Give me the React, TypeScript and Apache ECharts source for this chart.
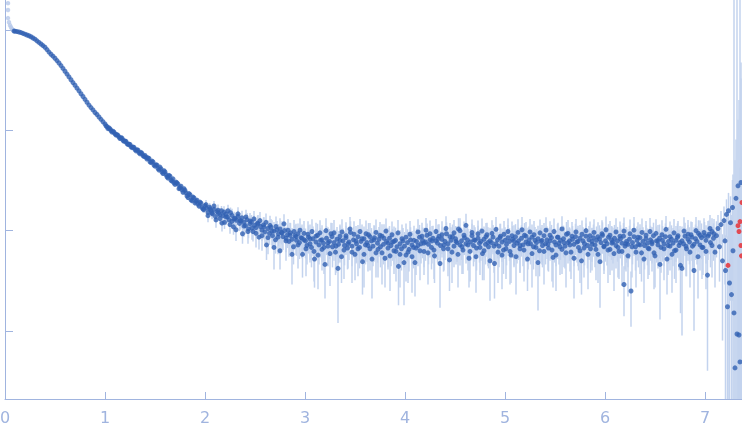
import React, { useEffect, useRef } from "react";
import * as echarts from "echarts";

// Scattering curve, q (x) vs intensity I (log y). Rows are [q, I] or [q, I, error].
const excludedPoints: number[][] = [
  [0.03, 1.86], [0.03, 1.59], [0.03, 1.32], [0.04, 1.2], [0.05, 1.12], [0.06, 1.07], [0.07, 1.03], [0.08, 1.0],
];

const guinierPoints: number[][] = [
  [0.09, 0.98], [0.10, 0.977], [0.12, 0.968], [0.14, 0.959], [0.16, 0.946], [0.18, 0.929], [0.20, 0.912],
  [0.22, 0.895], [0.24, 0.879], [0.26, 0.859], [0.28, 0.836], [0.30, 0.813], [0.32, 0.783], [0.34, 0.755],
  [0.36, 0.728], [0.38, 0.702], [0.40, 0.676], [0.42, 0.640], [0.44, 0.605], [0.46, 0.575], [0.48, 0.550],
  [0.50, 0.525], [0.52, 0.497], [0.54, 0.470], [0.56, 0.443], [0.58, 0.415], [0.60, 0.389], [0.62, 0.365],
  [0.64, 0.342], [0.66, 0.320], [0.68, 0.300], [0.70, 0.282], [0.72, 0.264], [0.74, 0.248], [0.76, 0.232],
  [0.78, 0.218], [0.80, 0.204], [0.82, 0.191], [0.84, 0.179], [0.86, 0.169], [0.88, 0.160], [0.90, 0.151],
  [0.92, 0.144], [0.94, 0.136], [0.96, 0.129], [0.98, 0.122],
];

const shoulderPoints: number[][] = [
  [1.00, 0.116, 0.0015], [1.02, 0.109, 0.0015], [1.04, 0.106, 0.0015], [1.06, 0.0998, 0.0015],
  [1.08, 0.0981, 0.0015], [1.10, 0.0925, 0.0015], [1.12, 0.0907, 0.0015], [1.14, 0.0858, 0.0015],
  [1.16, 0.0846, 0.0015], [1.18, 0.0797, 0.0015], [1.20, 0.0785, 0.0015], [1.22, 0.0739, 0.0015],
  [1.24, 0.0730, 0.0015], [1.26, 0.0688, 0.0015], [1.28, 0.0683, 0.0015], [1.30, 0.0644, 0.0013],
  [1.32, 0.0641, 0.0013], [1.34, 0.0600, 0.0013], [1.36, 0.0604, 0.0013], [1.38, 0.0561, 0.0013],
  [1.40, 0.0563, 0.0013], [1.41, 0.0540, 0.0013], [1.42, 0.0518, 0.0013], [1.44, 0.0524, 0.0013],
  [1.46, 0.0478, 0.0013], [1.48, 0.0486, 0.0013], [1.50, 0.0440, 0.0013], [1.51, 0.0455, 0.0013],
  [1.52, 0.0449, 0.0013], [1.54, 0.0402, 0.0013], [1.56, 0.0412, 0.0013], [1.58, 0.0371, 0.0013],
  [1.60, 0.0385, 0.0012], [1.61, 0.0362, 0.0012], [1.62, 0.0344, 0.0012], [1.64, 0.0356, 0.0012],
  [1.66, 0.0318, 0.0012], [1.68, 0.0329, 0.0012], [1.70, 0.0289, 0.0012], [1.71, 0.0305, 0.0012],
  [1.72, 0.0300, 0.0012], [1.74, 0.0262, 0.0012], [1.76, 0.0277, 0.0012], [1.78, 0.0241, 0.0012],
  [1.80, 0.0252, 0.0012], [1.81, 0.0238, 0.0012], [1.82, 0.0222, 0.0012], [1.84, 0.0234, 0.0012],
  [1.86, 0.0203, 0.0012], [1.88, 0.0216, 0.0012], [1.90, 0.0189, 0.0012], [1.91, 0.0196, 0.0012],
  [1.92, 0.0201, 0.0012], [1.94, 0.0176, 0.0012], [1.96, 0.0188, 0.0012], [1.98, 0.0164, 0.0012],
  [2.00, 0.0177, 0.0012],
];

const shoulderPointsOdd: number[][] = [
  [1.01, 0.111, 0.0015], [1.03, 0.104, 0.0015], [1.05, 0.1035, 0.0015], [1.07, 0.0962, 0.0015],
  [1.09, 0.0958, 0.0015], [1.11, 0.0900, 0.0015], [1.13, 0.0892, 0.0015], [1.15, 0.0830, 0.0015],
  [1.17, 0.0838, 0.0015], [1.19, 0.0779, 0.0015], [1.21, 0.0775, 0.0015], [1.23, 0.0722, 0.0015],
  [1.25, 0.0724, 0.0015], [1.27, 0.0672, 0.0015], [1.29, 0.0676, 0.0015], [1.31, 0.0625, 0.0013],
  [1.33, 0.0634, 0.0013], [1.35, 0.0585, 0.0013], [1.37, 0.0590, 0.0013], [1.39, 0.0548, 0.0013],
  [1.43, 0.0532, 0.0013], [1.45, 0.0486, 0.0013], [1.47, 0.0494, 0.0013], [1.49, 0.0452, 0.0013],
  [1.53, 0.0417, 0.0013], [1.55, 0.0430, 0.0013], [1.57, 0.0384, 0.0013], [1.59, 0.0396, 0.0013],
  [1.63, 0.0335, 0.0012], [1.65, 0.0349, 0.0012], [1.67, 0.0312, 0.0012], [1.69, 0.0300, 0.0012],
  [1.73, 0.0290, 0.0012], [1.75, 0.0268, 0.0012], [1.77, 0.0255, 0.0012], [1.79, 0.0262, 0.0012],
  [1.83, 0.0214, 0.0012], [1.85, 0.0228, 0.0012], [1.87, 0.0199, 0.0012], [1.89, 0.0212, 0.0012],
  [1.93, 0.0184, 0.0012], [1.95, 0.0192, 0.0012], [1.97, 0.0170, 0.0012], [1.99, 0.0162, 0.0012],
];

const kneePoints: number[][] = [
  [2.015, 0.0168, 0.0016], [2.030, 0.0152, 0.0016], [2.045, 0.0171, 0.0017], [2.060, 0.0159, 0.0016],
  [2.075, 0.0147, 0.0016], [2.090, 0.0163, 0.0017], [2.105, 0.0138, 0.0016], [2.120, 0.0155, 0.0017],
  [2.135, 0.0149, 0.0017], [2.150, 0.0132, 0.0016], [2.165, 0.0158, 0.0018], [2.180, 0.0141, 0.0017],
  [2.195, 0.0121, 0.0017], [2.210, 0.0146, 0.0018], [2.225, 0.0137, 0.0018], [2.240, 0.0128, 0.0018],
  [2.255, 0.0151, 0.0019], [2.270, 0.0124, 0.0018], [2.285, 0.0109, 0.0018], [2.300, 0.0133, 0.0019],
  [2.315, 0.0127, 0.0019], [2.330, 0.0139, 0.0020], [2.345, 0.0118, 0.0019], [2.360, 0.0125, 0.0020],
  [2.375, 0.0093, 0.0019], [2.390, 0.0121, 0.0020], [2.405, 0.0112, 0.0020], [2.420, 0.0129, 0.0021],
  [2.435, 0.0104, 0.0020], [2.450, 0.0117, 0.0021], [2.465, 0.0122, 0.0021], [2.480, 0.0098, 0.0020],
  [2.495, 0.0113, 0.0021], [2.510, 0.0107, 0.0021], [2.525, 0.0119, 0.0022], [2.540, 0.0086, 0.0021],
  [2.555, 0.0110, 0.0022], [2.570, 0.0101, 0.0022], [2.585, 0.0114, 0.0022], [2.600, 0.0097, 0.0022],
  [2.615, 0.0072, 0.0021], [2.630, 0.0105, 0.0022], [2.645, 0.0094, 0.0022], [2.660, 0.0108, 0.0023],
  [2.675, 0.0089, 0.0022], [2.690, 0.0099, 0.0023], [2.705, 0.0081, 0.0022], [2.720, 0.0102, 0.0023],
  [2.735, 0.0093, 0.0023], [2.750, 0.0063, 0.0022], [2.765, 0.0096, 0.0023], [2.780, 0.0087, 0.0023],
  [2.795, 0.0100, 0.0024], [2.810, 0.0084, 0.0023], [2.825, 0.0091, 0.0024], [2.840, 0.0078, 0.0023],
  [2.855, 0.0095, 0.0024], [2.870, 0.0082, 0.0024], [2.885, 0.0069, 0.0023], [2.900, 0.0089, 0.0024],
  [2.915, 0.0080, 0.0024], [2.930, 0.0093, 0.0025], [2.945, 0.0076, 0.0024], [2.960, 0.0085, 0.0025],
  [2.975, 0.0058, 0.0024], [2.990, 0.0081, 0.0025],
];

const plateauPointsA: number[][] = [
  [3.005, 0.0079, 0.0026], [3.020, 0.0071, 0.0025], [3.035, 0.0086, 0.0027], [3.050, 0.0074, 0.0026],
  [3.065, 0.0068, 0.0025], [3.080, 0.0083, 0.0027], [3.095, 0.0052, 0.0025], [3.110, 0.0077, 0.0026],
  [3.125, 0.0090, 0.0027], [3.140, 0.0072, 0.0026], [3.155, 0.0080, 0.0026], [3.170, 0.0065, 0.0025],
  [3.185, 0.0075, 0.0026], [3.200, 0.0046, 0.0025], [3.215, 0.0084, 0.0027], [3.230, 0.0070, 0.0026],
  [3.245, 0.0078, 0.0026], [3.260, 0.0093, 0.0027], [3.275, 0.0069, 0.0026], [3.290, 0.0076, 0.0026],
  [3.305, 0.0061, 0.0025], [3.320, 0.0082, 0.0027], [3.335, 0.0073, 0.0026], [3.350, 0.0088, 0.0027],
  [3.365, 0.0055, 0.0025], [3.380, 0.0079, 0.0026], [3.395, 0.0071, 0.0026], [3.410, 0.0085, 0.0027],
  [3.425, 0.0067, 0.0026], [3.440, 0.0077, 0.0026], [3.455, 0.0096, 0.0028], [3.470, 0.0070, 0.0026],
  [3.485, 0.0081, 0.0027], [3.500, 0.0058, 0.0026], [3.515, 0.0074, 0.0026], [3.530, 0.0087, 0.0027],
  [3.545, 0.0068, 0.0026], [3.560, 0.0078, 0.0027], [3.575, 0.0049, 0.0026], [3.590, 0.0083, 0.0027],
  [3.605, 0.0072, 0.0026], [3.620, 0.0076, 0.0027], [3.635, 0.0091, 0.0028], [3.650, 0.0066, 0.0026],
  [3.665, 0.0079, 0.0027], [3.680, 0.0070, 0.0026], [3.695, 0.0085, 0.0027], [3.710, 0.0060, 0.0026],
  [3.725, 0.0075, 0.0027], [3.740, 0.0082, 0.0027], [3.755, 0.0069, 0.0026], [3.770, 0.0088, 0.0028],
  [3.785, 0.0073, 0.0027], [3.800, 0.0053, 0.0026], [3.815, 0.0078, 0.0027], [3.830, 0.0067, 0.0026],
  [3.845, 0.0084, 0.0027], [3.860, 0.0071, 0.0027], [3.875, 0.0077, 0.0027], [3.890, 0.0063, 0.0026],
  [3.905, 0.0080, 0.0027], [3.920, 0.0069, 0.0026], [3.935, 0.0044, 0.0026], [3.950, 0.0074, 0.0027],
  [3.965, 0.0066, 0.0026], [3.980, 0.0079, 0.0027], [3.995, 0.0070, 0.0027], [4.010, 0.0057, 0.0026],
  [4.025, 0.0076, 0.0027], [4.040, 0.0065, 0.0026], [4.055, 0.0081, 0.0027], [4.070, 0.0072, 0.0027],
  [4.085, 0.0068, 0.0026], [4.100, 0.0048, 0.0026], [4.115, 0.0078, 0.0027], [4.130, 0.0071, 0.0027],
  [4.145, 0.0086, 0.0028], [4.160, 0.0074, 0.0027], [4.175, 0.0080, 0.0027], [4.190, 0.0062, 0.0026],
  [4.205, 0.0077, 0.0027], [4.220, 0.0090, 0.0028], [4.235, 0.0073, 0.0027], [4.250, 0.0081, 0.0027],
  [4.265, 0.0068, 0.0027], [4.280, 0.0084, 0.0028], [4.295, 0.0056, 0.0026], [4.310, 0.0079, 0.0027],
  [4.325, 0.0075, 0.0027], [4.340, 0.0088, 0.0028], [4.355, 0.0071, 0.0027], [4.370, 0.0082, 0.0028],
  [4.385, 0.0066, 0.0027], [4.400, 0.0078, 0.0027], [4.415, 0.0093, 0.0028], [4.430, 0.0074, 0.0027],
  [4.445, 0.0051, 0.0026], [4.460, 0.0080, 0.0028], [4.475, 0.0087, 0.0028], [4.490, 0.0070, 0.0027],
  [4.505, 0.0083, 0.0028], [4.520, 0.0076, 0.0027], [4.535, 0.0104, 0.0029], [4.550, 0.0072, 0.0027],
  [4.565, 0.0079, 0.0028], [4.580, 0.0064, 0.0027], [4.595, 0.0085, 0.0028], [4.610, 0.0074, 0.0027],
  [4.625, 0.0081, 0.0028], [4.640, 0.0053, 0.0026], [4.655, 0.0077, 0.0027], [4.670, 0.0089, 0.0028],
  [4.685, 0.0071, 0.0027], [4.700, 0.0080, 0.0028], [4.715, 0.0067, 0.0027], [4.730, 0.0084, 0.0028],
  [4.745, 0.0075, 0.0027], [4.760, 0.0078, 0.0028], [4.775, 0.0059, 0.0027], [4.790, 0.0082, 0.0028],
  [4.805, 0.0073, 0.0027], [4.820, 0.0091, 0.0029], [4.835, 0.0069, 0.0027], [4.850, 0.0079, 0.0028],
  [4.865, 0.0076, 0.0028], [4.880, 0.0086, 0.0028], [4.895, 0.0047, 0.0026], [4.910, 0.0074, 0.0027],
  [4.925, 0.0081, 0.0028], [4.940, 0.0070, 0.0027], [4.955, 0.0088, 0.0029], [4.970, 0.0077, 0.0028],
  [4.985, 0.0064, 0.0027], [5.000, 0.0080, 0.0028],
];

const plateauPointsB: number[][] = [
  [5.015, 0.0073, 0.0028], [5.030, 0.0085, 0.0029], [5.045, 0.0078, 0.0028], [5.060, 0.0057, 0.0027],
  [5.075, 0.0082, 0.0029], [5.090, 0.0071, 0.0028], [5.105, 0.0087, 0.0029], [5.120, 0.0075, 0.0028],
  [5.135, 0.0079, 0.0028], [5.150, 0.0066, 0.0028], [5.165, 0.0084, 0.0029], [5.180, 0.0072, 0.0028],
  [5.195, 0.0090, 0.0029], [5.210, 0.0077, 0.0028], [5.225, 0.0052, 0.0027], [5.240, 0.0081, 0.0029],
  [5.255, 0.0074, 0.0028], [5.270, 0.0086, 0.0029], [5.285, 0.0069, 0.0028], [5.300, 0.0080, 0.0029],
  [5.315, 0.0076, 0.0028], [5.330, 0.0083, 0.0029], [5.345, 0.0063, 0.0028], [5.360, 0.0078, 0.0029],
  [5.375, 0.0071, 0.0028], [5.390, 0.0089, 0.0030], [5.405, 0.0074, 0.0028], [5.420, 0.0081, 0.0029],
  [5.435, 0.0067, 0.0028], [5.450, 0.0079, 0.0029], [5.465, 0.0085, 0.0029], [5.480, 0.0054, 0.0027],
  [5.495, 0.0077, 0.0029], [5.510, 0.0072, 0.0028], [5.525, 0.0086, 0.0030], [5.540, 0.0075, 0.0029],
  [5.555, 0.0080, 0.0029], [5.570, 0.0065, 0.0028], [5.585, 0.0083, 0.0029], [5.600, 0.0070, 0.0028],
  [5.615, 0.0092, 0.0030], [5.630, 0.0076, 0.0029], [5.645, 0.0079, 0.0029], [5.660, 0.0061, 0.0028],
  [5.675, 0.0082, 0.0029], [5.690, 0.0073, 0.0029], [5.705, 0.0087, 0.0030], [5.720, 0.0077, 0.0029],
  [5.735, 0.0068, 0.0028], [5.750, 0.0084, 0.0030], [5.765, 0.0050, 0.0027], [5.780, 0.0079, 0.0029],
  [5.795, 0.0074, 0.0029], [5.810, 0.0088, 0.0030], [5.825, 0.0071, 0.0029], [5.840, 0.0081, 0.0030],
  [5.855, 0.0066, 0.0028], [5.870, 0.0078, 0.0029], [5.885, 0.0085, 0.0030], [5.900, 0.0072, 0.0029],
  [5.915, 0.0080, 0.0030], [5.930, 0.0058, 0.0028], [5.945, 0.0083, 0.0030], [5.960, 0.0076, 0.0029],
  [5.975, 0.0090, 0.0031], [5.990, 0.0069, 0.0029], [6.005, 0.0079, 0.0030], [6.020, 0.0074, 0.0029],
  [6.035, 0.0086, 0.0030], [6.050, 0.0065, 0.0029], [6.065, 0.0081, 0.0030], [6.080, 0.0077, 0.0030],
  [6.095, 0.0084, 0.0030], [6.110, 0.0071, 0.0029], [6.125, 0.0079, 0.0030], [6.140, 0.0062, 0.0029],
  [6.155, 0.0083, 0.0030], [6.170, 0.0075, 0.0030], [6.185, 0.0088, 0.0031], [6.190, 0.0029, 0.0015],
  [6.200, 0.0070, 0.0029], [6.215, 0.0078, 0.0030], [6.230, 0.0073, 0.0030], [6.245, 0.0082, 0.0030],
  [6.260, 0.0025, 0.0014], [6.275, 0.0076, 0.0030], [6.290, 0.0087, 0.0031], [6.305, 0.0069, 0.0029],
  [6.320, 0.0080, 0.0030], [6.335, 0.0073, 0.0030], [6.350, 0.0085, 0.0031], [6.365, 0.0060, 0.0029],
  [6.380, 0.0078, 0.0030], [6.395, 0.0071, 0.0030], [6.410, 0.0083, 0.0031], [6.425, 0.0075, 0.0030],
  [6.440, 0.0066, 0.0030], [6.455, 0.0081, 0.0031], [6.470, 0.0077, 0.0030], [6.485, 0.0089, 0.0031],
  [6.500, 0.0056, 0.0029], [6.515, 0.0079, 0.0031], [6.530, 0.0072, 0.0030], [6.545, 0.0084, 0.0031],
  [6.560, 0.0068, 0.0030], [6.575, 0.0080, 0.0031], [6.590, 0.0074, 0.0030], [6.605, 0.0087, 0.0031],
  [6.620, 0.0052, 0.0029], [6.635, 0.0078, 0.0031], [6.650, 0.0070, 0.0030], [6.665, 0.0082, 0.0031],
  [6.680, 0.0075, 0.0031], [6.695, 0.0063, 0.0030], [6.710, 0.0080, 0.0031], [6.725, 0.0086, 0.0032],
  [6.740, 0.0071, 0.0031], [6.755, 0.0045, 0.0030], [6.770, 0.0079, 0.0031], [6.785, 0.0074, 0.0031],
  [6.800, 0.0088, 0.0032], [6.815, 0.0066, 0.0031], [6.830, 0.0082, 0.0032], [6.845, 0.0077, 0.0031],
  [6.860, 0.0091, 0.0032], [6.875, 0.0070, 0.0031], [6.890, 0.0040, 0.0030], [6.905, 0.0083, 0.0032],
  [6.920, 0.0078, 0.0032], [6.935, 0.0094, 0.0033], [6.950, 0.0072, 0.0032], [6.965, 0.0085, 0.0033],
  [6.980, 0.0068, 0.0032], [6.995, 0.0089, 0.0033], [7.010, 0.0080, 0.0033], [7.025, 0.0036, 0.0032],
  [7.040, 0.0092, 0.0034], [7.055, 0.0076, 0.0033], [7.070, 0.0098, 0.0035], [7.085, 0.0084, 0.0034],
  [7.100, 0.0061, 0.0034],
];

const kneePointsOdd: number[][] = [
  [2.01, 0.0182, 0.0020], [2.03, 0.0141, 0.0020], [2.05, 0.0165, 0.0020], [2.07, 0.0150, 0.0020], [2.09, 0.0176, 0.0021],
  [2.11, 0.0128, 0.0021], [2.13, 0.0160, 0.0022], [2.15, 0.0144, 0.0022], [2.17, 0.0119, 0.0021], [2.19, 0.0153, 0.0022],
  [2.21, 0.0137, 0.0023], [2.23, 0.0158, 0.0023], [2.25, 0.0115, 0.0022], [2.27, 0.0142, 0.0023], [2.29, 0.0131, 0.0023],
  [2.31, 0.0102, 0.0023], [2.33, 0.0147, 0.0024], [2.35, 0.0126, 0.0024], [2.37, 0.0134, 0.0024], [2.39, 0.0111, 0.0024],
  [2.41, 0.0137, 0.0025], [2.43, 0.0098, 0.0024], [2.45, 0.0125, 0.0025], [2.47, 0.0106, 0.0025], [2.49, 0.0131, 0.0026],
  [2.51, 0.0094, 0.0026], [2.53, 0.0117, 0.0026], [2.55, 0.0126, 0.0027], [2.57, 0.0089, 0.0026], [2.59, 0.0109, 0.0027],
  [2.61, 0.0121, 0.0027], [2.63, 0.0085, 0.0027], [2.65, 0.0113, 0.0028], [2.67, 0.0099, 0.0028], [2.69, 0.0068, 0.0027],
  [2.71, 0.0110, 0.0028], [2.73, 0.0086, 0.0028], [2.75, 0.0104, 0.0029], [2.77, 0.0095, 0.0029], [2.79, 0.0117, 0.0029],
  [2.81, 0.0079, 0.0029], [2.83, 0.0101, 0.0030], [2.85, 0.0090, 0.0030], [2.87, 0.0058, 0.0029], [2.89, 0.0098, 0.0030],
  [2.91, 0.0087, 0.0030], [2.93, 0.0072, 0.0030], [2.95, 0.0101, 0.0031], [2.97, 0.0084, 0.0031], [2.99, 0.0094, 0.0031],
];

const plateauPointsOddA: number[][] = [
  [3.01, 0.0066, 0.0031], [3.03, 0.0092, 0.0032], [3.05, 0.0083, 0.0032], [3.07, 0.0098, 0.0032], [3.09, 0.0062, 0.0031],
  [3.11, 0.0088, 0.0032], [3.13, 0.0057, 0.0031], [3.15, 0.0095, 0.0032], [3.17, 0.0081, 0.0032], [3.19, 0.0068, 0.0031],
  [3.21, 0.0100, 0.0033], [3.23, 0.0076, 0.0032], [3.25, 0.0059, 0.0031], [3.27, 0.0087, 0.0032], [3.29, 0.0095, 0.0033],
  [3.31, 0.0070, 0.0032], [3.33, 0.0042, 0.0030], [3.35, 0.0080, 0.0032], [3.37, 0.0097, 0.0033], [3.39, 0.0064, 0.0031],
  [3.41, 0.0089, 0.0032], [3.43, 0.0074, 0.0032], [3.45, 0.0104, 0.0033], [3.47, 0.0061, 0.0031], [3.49, 0.0092, 0.0032],
  [3.51, 0.0079, 0.0032], [3.53, 0.0066, 0.0031], [3.55, 0.0098, 0.0033], [3.57, 0.0083, 0.0032], [3.59, 0.0058, 0.0031],
  [3.61, 0.0093, 0.0033], [3.63, 0.0071, 0.0032], [3.65, 0.0087, 0.0032], [3.67, 0.0052, 0.0031], [3.69, 0.0081, 0.0032],
  [3.71, 0.0096, 0.0033], [3.73, 0.0065, 0.0031], [3.75, 0.0090, 0.0032], [3.77, 0.0060, 0.0031], [3.79, 0.0084, 0.0032],
  [3.81, 0.0099, 0.0033], [3.83, 0.0075, 0.0032], [3.85, 0.0056, 0.0031], [3.87, 0.0091, 0.0032], [3.89, 0.0078, 0.0032],
  [3.91, 0.0062, 0.0031], [3.93, 0.0095, 0.0033], [3.95, 0.0058, 0.0031], [3.97, 0.0083, 0.0032], [3.99, 0.0048, 0.0030],
  [4.01, 0.0086, 0.0032], [4.03, 0.0061, 0.0031], [4.05, 0.0092, 0.0033], [4.07, 0.0055, 0.0031], [4.09, 0.0080, 0.0032],
  [4.11, 0.0067, 0.0031], [4.13, 0.0097, 0.0033], [4.15, 0.0063, 0.0031], [4.17, 0.0088, 0.0032], [4.19, 0.0075, 0.0032],
  [4.21, 0.0101, 0.0033], [4.23, 0.0060, 0.0031], [4.25, 0.0093, 0.0033], [4.27, 0.0079, 0.0032], [4.29, 0.0064, 0.0031],
  [4.31, 0.0098, 0.0033], [4.33, 0.0083, 0.0032], [4.35, 0.0047, 0.0030], [4.37, 0.0091, 0.0033], [4.39, 0.0072, 0.0032],
  [4.41, 0.0105, 0.0034], [4.43, 0.0066, 0.0031], [4.45, 0.0087, 0.0032], [4.47, 0.0061, 0.0031], [4.49, 0.0095, 0.0033],
  [4.51, 0.0078, 0.0032], [4.53, 0.0058, 0.0031], [4.55, 0.0100, 0.0033], [4.57, 0.0069, 0.0032], [4.59, 0.0090, 0.0033],
  [4.61, 0.0113, 0.0034], [4.63, 0.0072, 0.0032], [4.65, 0.0062, 0.0031], [4.67, 0.0096, 0.0033], [4.69, 0.0081, 0.0032],
  [4.71, 0.0055, 0.0031], [4.73, 0.0093, 0.0033], [4.75, 0.0068, 0.0032], [4.77, 0.0099, 0.0033], [4.79, 0.0063, 0.0031],
  [4.81, 0.0087, 0.0032], [4.83, 0.0076, 0.0032], [4.85, 0.0050, 0.0030], [4.87, 0.0094, 0.0033], [4.89, 0.0070, 0.0032],
  [4.91, 0.0103, 0.0034], [4.93, 0.0061, 0.0031], [4.95, 0.0085, 0.0032], [4.97, 0.0057, 0.0031], [4.99, 0.0092, 0.0033],
];

const plateauPointsOddB: number[][] = [
  [5.01, 0.0066, 0.0033], [5.03, 0.0098, 0.0034], [5.05, 0.0062, 0.0033], [5.07, 0.0089, 0.0034], [5.09, 0.0079, 0.0034],
  [5.11, 0.0055, 0.0032], [5.13, 0.0096, 0.0034], [5.15, 0.0071, 0.0033], [5.17, 0.0102, 0.0035], [5.19, 0.0064, 0.0033],
  [5.21, 0.0088, 0.0034], [5.23, 0.0074, 0.0033], [5.25, 0.0097, 0.0034], [5.27, 0.0059, 0.0032], [5.29, 0.0091, 0.0034],
  [5.31, 0.0068, 0.0033], [5.33, 0.0048, 0.0032], [5.35, 0.0095, 0.0034], [5.37, 0.0080, 0.0034], [5.39, 0.0062, 0.0033],
  [5.41, 0.0101, 0.0035], [5.43, 0.0073, 0.0033], [5.45, 0.0090, 0.0034], [5.47, 0.0064, 0.0033], [5.49, 0.0098, 0.0034],
  [5.51, 0.0057, 0.0032], [5.53, 0.0086, 0.0034], [5.55, 0.0069, 0.0033], [5.57, 0.0104, 0.0035], [5.59, 0.0076, 0.0033],
  [5.61, 0.0060, 0.0033], [5.63, 0.0094, 0.0034], [5.65, 0.0072, 0.0033], [5.67, 0.0088, 0.0034], [5.69, 0.0053, 0.0032],
  [5.71, 0.0097, 0.0034], [5.73, 0.0078, 0.0034], [5.75, 0.0063, 0.0033], [5.77, 0.0092, 0.0034], [5.79, 0.0067, 0.0033],
  [5.81, 0.0100, 0.0035], [5.83, 0.0058, 0.0032], [5.85, 0.0089, 0.0034], [5.87, 0.0073, 0.0033], [5.89, 0.0096, 0.0034],
  [5.91, 0.0065, 0.0033], [5.93, 0.0087, 0.0034], [5.95, 0.0049, 0.0032], [5.97, 0.0093, 0.0034], [5.99, 0.0070, 0.0033],
  [6.01, 0.0102, 0.0036], [6.03, 0.0064, 0.0034], [6.05, 0.0090, 0.0035], [6.07, 0.0075, 0.0035], [6.09, 0.0059, 0.0034],
  [6.11, 0.0097, 0.0036], [6.13, 0.0068, 0.0034], [6.15, 0.0088, 0.0035], [6.17, 0.0062, 0.0034], [6.19, 0.0099, 0.0036],
  [6.21, 0.0074, 0.0035], [6.23, 0.0056, 0.0034], [6.25, 0.0093, 0.0036], [6.27, 0.0069, 0.0035], [6.29, 0.0101, 0.0036],
  [6.31, 0.0061, 0.0034], [6.33, 0.0086, 0.0035], [6.35, 0.0072, 0.0035], [6.37, 0.0096, 0.0036], [6.39, 0.0052, 0.0033],
  [6.41, 0.0090, 0.0035], [6.43, 0.0067, 0.0034], [6.45, 0.0098, 0.0036], [6.47, 0.0074, 0.0035], [6.49, 0.0060, 0.0034],
  [6.51, 0.0094, 0.0036], [6.53, 0.0079, 0.0035], [6.55, 0.0046, 0.0033], [6.57, 0.0091, 0.0036], [6.59, 0.0066, 0.0034],
  [6.61, 0.0103, 0.0037], [6.63, 0.0071, 0.0035], [6.65, 0.0087, 0.0036], [6.67, 0.0058, 0.0034], [6.69, 0.0095, 0.0036],
  [6.71, 0.0064, 0.0034], [6.73, 0.0089, 0.0036], [6.75, 0.0076, 0.0035], [6.77, 0.0042, 0.0033], [6.79, 0.0099, 0.0037],
  [6.81, 0.0070, 0.0035], [6.83, 0.0092, 0.0036], [6.85, 0.0061, 0.0034], [6.87, 0.0086, 0.0036], [6.89, 0.0073, 0.0035],
  [6.91, 0.0100, 0.0037], [6.93, 0.0055, 0.0034], [6.95, 0.0090, 0.0036], [6.97, 0.0068, 0.0035], [6.99, 0.0096, 0.0037],
  [7.01, 0.0062, 0.0036], [7.03, 0.0088, 0.0037], [7.05, 0.0105, 0.0038], [7.07, 0.0071, 0.0037], [7.09, 0.0093, 0.0038],
];

const tailPoints: number[][] = [
  [7.115, 0.0089, 0.0035], [7.130, 0.0105, 0.0038], [7.145, 0.0069, 0.0038], [7.160, 0.0115, 0.0042],
  [7.175, 0.0050, 0.0042], [7.190, 0.0126, 0.0048], [7.200, 0.0079, 0.0050], [7.205, 0.0040, 0.0050],
  [7.215, 0.0145, 0.0060], [7.225, 0.00174, 0.0070], [7.235, 0.0158, 0.008], [7.245, 0.0030, 0.009],
  [7.255, 0.0120, 0.010], [7.265, 0.0023, 0.012], [7.275, 0.0170, 0.015], [7.280, 0.0063, 0.03],
  [7.290, 0.00151, 2.5], [7.300, 0.000427, 0.05], [7.310, 0.0210, 0.06], [7.320, 0.00093, 2.5],
  [7.330, 0.0280, 0.1], [7.340, 0.00091, 0.2], [7.350, 0.00049, 2.5], [7.360, 0.0302, 0.3],
];

const flaggedPoints: number[][] = [
  [7.23, 0.0045, 0.01], [7.33, 0.0112, 0.02], [7.34, 0.0098, 0.02], [7.35, 0.0123, 0.03],
  [7.36, 0.0071, 0.47], [7.365, 0.0056, 0.05], [7.37, 0.0191, 0.05],
];

const xTickValues = [0, 1, 2, 3, 4, 5, 6, 7];
const yTickValues = [0.001, 0.01, 0.1, 1];

const AXIS_COLOR = "#a0b4df";

export default function App() {
  const ref = useRef<HTMLDivElement>(null);
  useEffect(() => {
    if (!ref.current) return;
    const chart = echarts.init(ref.current, undefined, { renderer: "svg" });
    const withErr = [
      ...shoulderPoints,
      ...shoulderPointsOdd,
      ...kneePoints,
      ...kneePointsOdd,
      ...plateauPointsA,
      ...plateauPointsOddA,
      ...plateauPointsB,
      ...plateauPointsOddB,
      ...tailPoints,
    ];
    const mainPoints = [...guinierPoints, ...withErr];
    const errorRows = [...withErr, ...flaggedPoints].map((r) => [r[0], Math.max(r[1] - r[2], 1e-7), r[1] + r[2]]);

    chart.setOption({
      animation: false,
      grid: { left: 5, right: 0, top: 0, bottom: 38, containLabel: false, outerBoundsMode: "none" },
      xAxis: {
        type: "value",
        min: 0,
        max: 7.37,
        interval: 1,
        splitLine: { show: false },
        axisLine: { show: true, lineStyle: { color: AXIS_COLOR, width: 1 } },
        axisTick: { show: true, inside: true, length: 7, lineStyle: { color: AXIS_COLOR }, customValues: xTickValues },
        axisLabel: {
          color: AXIS_COLOR,
          fontSize: 16,
          fontFamily: "DejaVu Sans",
          margin: 10,
          customValues: xTickValues,
        },
      },
      yAxis: {
        type: "log",
        logBase: 10,
        min: 0.000209,
        max: 2.0,
        splitLine: { show: false },
        axisLine: { show: true, lineStyle: { color: AXIS_COLOR, width: 1 } },
        axisTick: { show: true, inside: true, length: 8, lineStyle: { color: AXIS_COLOR }, customValues: yTickValues },
        axisLabel: { show: false },
      },
      series: [
        {
          type: "custom",
          clip: true,
          z: 1,
          encode: { x: 0, y: [1, 2] },
          data: errorRows,
          renderItem: (_params: any, api: any) => {
            const q = api.value(0);
            const p1 = api.coord([q, api.value(2)]);
            const p2 = api.coord([q, api.value(1)]);
            return {
              type: "line",
              shape: { x1: p1[0], y1: p1[1], x2: p2[0], y2: p2[1] },
              style: { stroke: "#c3d3ee", lineWidth: 1.5 },
            };
          },
        },
        {
          type: "scatter",
          z: 2,
          symbolSize: 4.5,
          itemStyle: { color: "#b6c8ea" },
          data: excludedPoints.map((r) => [r[0], r[1]]),
        },
        {
          type: "scatter",
          z: 3,
          symbolSize: 5,
          clip: true,
          itemStyle: { color: "#3262b3" },
          data: mainPoints.map((r) => [r[0], r[1]]),
        },
        {
          type: "scatter",
          z: 4,
          symbolSize: 5,
          clip: true,
          itemStyle: { color: "#e8282c" },
          data: flaggedPoints.map((r) => [r[0], r[1]]),
        },
      ],
    });
    return () => chart.dispose();
  }, []);
  return <div ref={ref} style={{ position: "fixed", left: 0, top: 0, width: 742, height: 437 }} />;
}
